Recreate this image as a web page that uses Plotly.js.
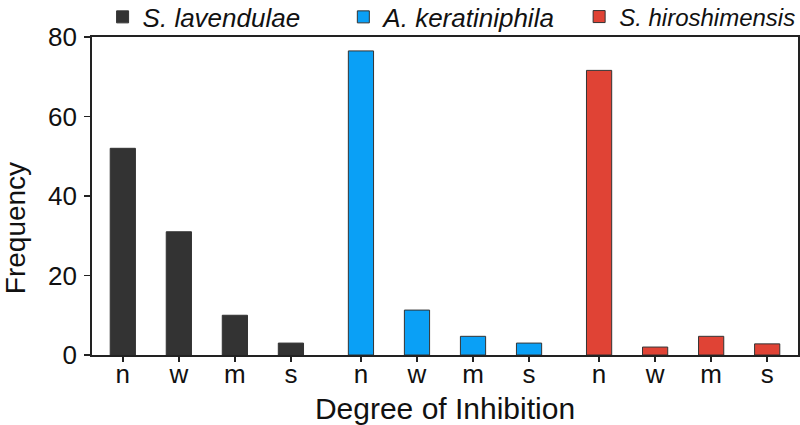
<!DOCTYPE html>
<html>
<head>
<meta charset="utf-8">
<script src="https://cdn.plot.ly/plotly-3.0.1.min.js"></script>
<style>
  html, body { margin: 0; padding: 0; background: #fff; }
  #chart { width: 800px; height: 425px; }
</style>
</head>
<body>
<div id="chart"></div>
<script>
// Inhibition frequency per organism
const degrees = ['n', 'w', 'm', 's'];
const organisms = ['S. lavendulae', 'A. keratiniphila', 'S. hiroshimensis'];
const lavendulae = [52, 31, 10, 3];
const keratiniphila = [76.5, 11.3, 4.7, 3];
const hiroshimensis = [71.6, 2, 4.7, 2.8];
const colors = ['#333333', '#0aa0f6', '#e04335'];

const series = [lavendulae, keratiniphila, hiroshimensis];
const groupStep = 4.25; // 4 bars plus a small gap between groups
const legendIds = ['legend', 'legend2', 'legend3'];

const traces = series.map((vals, g) => ({
    type: 'bar',
    name: organisms[g],
    legend: legendIds[g],
    x: degrees.map((d, i) => g * groupStep + i),
    y: vals,
    width: 0.45,
    marker: {
        color: colors[g],
        line: { color: '#333333', width: 1 }
    },
    hoverinfo: 'y'
}));

const tickPos = [];
const tickText = [];
organisms.forEach((o, g) => {
    degrees.forEach((d, i) => {
        tickPos.push(g * groupStep + i);
        tickText.push(d);
    });
});

function legendAt(x, size) {
    return {
        orientation: 'h',
        x: x,
        xanchor: 'left',
        y: 1.063,
        yanchor: 'middle',
        font: { size: size, style: 'italic' },
        bgcolor: 'rgba(0,0,0,0)'
    };
}

const layout = {
    width: 800,
    height: 425,
    margin: { t: 37, r: 2, b: 70, l: 92, autoexpand: false },
    plot_bgcolor: 'white',
    paper_bgcolor: 'white',
    font: { family: 'Arial, "Liberation Sans", sans-serif', color: '#111' },
    showlegend: true,
    legend: legendAt(0.015, 26),
    legend2: legendAt(0.356, 26),
    legend3: legendAt(0.69, 24),
    xaxis: {
        range: [-0.55, 12.05],
        tickmode: 'array',
        tickvals: tickPos,
        ticktext: tickText,
        tickfont: { size: 26 },
        ticks: 'outside',
        ticklen: 5,
        tickwidth: 1.5,
        tickcolor: '#222',
        ticklabelstandoff: -10,
        showline: true,
        mirror: true,
        linecolor: '#222',
        linewidth: 1.8,
        showgrid: false,
        zeroline: false,
        title: { text: 'Degree of Inhibition', font: { size: 30 }, standoff: 14 }
    },
    yaxis: {
        range: [0, 80],
        tickvals: [0, 20, 40, 60, 80],
        tickfont: { size: 26 },
        ticks: 'outside',
        ticklen: 6,
        tickwidth: 1.5,
        tickcolor: '#222',
        ticklabelstandoff: 2,
        showline: true,
        mirror: true,
        linecolor: '#222',
        linewidth: 1.8,
        showgrid: false,
        zeroline: false
    },
    annotations: [{
        text: 'Frequency',
        textangle: -90,
        xref: 'paper',
        yref: 'paper',
        x: -0.108,
        y: 0.398,
        xanchor: 'center',
        yanchor: 'middle',
        showarrow: false,
        font: { size: 28 }
    }],
    bargap: 0
};

Plotly.newPlot('chart', traces, layout, { displayModeBar: false, staticPlot: true });
</script>
</body>
</html>
